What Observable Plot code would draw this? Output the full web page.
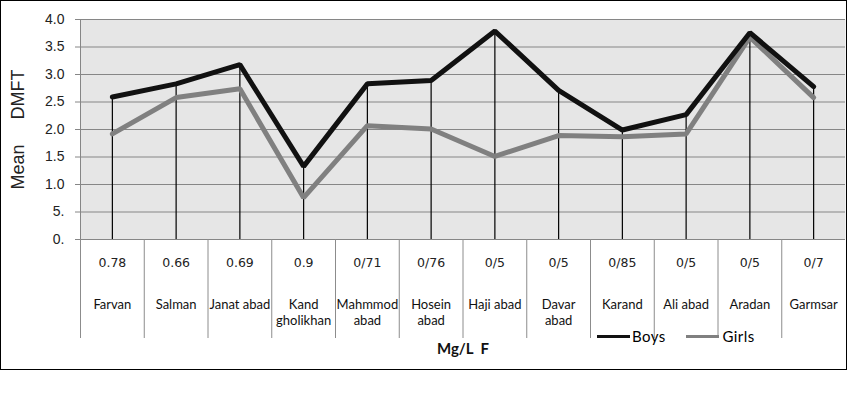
<!DOCTYPE html>
<html>
<head>
<meta charset="utf-8">
<script src="https://cdn.jsdelivr.net/npm/d3@7"></script>
<script src="https://cdn.jsdelivr.net/npm/@observablehq/plot@0.6"></script>
<style>
  body { margin: 0; background: #fff; }
  #wrap { position: relative; width: 848px; height: 393px; overflow: hidden; }
  #border { position: absolute; left: 0; top: 0; width: 845px; height: 368px; border: 1px solid #000; }
  #legend { position: absolute; left: 597px; top: 327px; font: 15px Lato, sans-serif; color: #000; display: flex; align-items: center; letter-spacing: 0.4px; }
  .sw { display: inline-block; width: 33px; height: 3px; margin-right: 2px; }
  .item { display: flex; align-items: center; }
  svg { position: absolute; left: 0; top: 0; }
</style>
</head>
<body>
<div id="wrap">
  <div id="border"></div>
</div>
<script>
const categories = ["Farvan","Salman","Janat abad","Kand\ngholikhan","Mahmmod\nabad","Hosein\nabad","Haji abad","Davar\nabad","Karand","Ali abad","Aradan","Garmsar"];
const fluoride = ["0.78","0.66","0.69","0.9","0/71","0/76","0/5","0/5","0/85","0/5","0/5","0/7"];
const boys  = [2.59, 2.83, 3.18, 1.33, 2.83, 2.89, 3.79, 2.71, 1.99, 2.27, 3.76, 2.78];
const girls = [1.92, 2.58, 2.74, 0.76, 2.07, 2.01, 1.51, 1.89, 1.87, 1.92, 3.68, 2.58];
const yTicks = [0, 0.5, 1, 1.5, 2, 2.5, 3, 3.5, 4];
const yTickLabels = ["0.", "5.", "1.0", "1.5", "2.0", "2.5", "3.0", "3.5", "4.0"];
const seriesNames = ["Boys", "Girls"];
const seriesColors = ["#111111", "#808080"];
const xTitle = "Mg/L\u00a0\u00a0F";
const yTitle = "Mean\u00a0\u00a0\u00a0\u00a0\u00a0DMFT";

const rows = categories.map((c, i) => ({i, name: c, f: fluoride[i], boys: boys[i], girls: girls[i], top: Math.max(boys[i], girls[i])}));

const chart = Plot.plot({
  width: 848,
  height: 393,
  marginTop: 19,
  marginBottom: 154,
  marginLeft: 80,
  marginRight: 3,
  x: {domain: [0, 12], axis: null},
  y: {domain: [0, 4], axis: null},
  style: {fontFamily: "Lato, sans-serif", background: "transparent", color: "#000"},
  marks: [
    Plot.frame({fill: "#e6e6e6"}),
    Plot.gridY(yTicks.slice(1), {stroke: "#868686", strokeOpacity: 1, strokeWidth: 1}),
    Plot.ruleX([0], {stroke: "#868686"}),
    Plot.ruleY([0], {stroke: "#868686"}),
    Plot.axisY({ticks: yTicks, tickFormat: (d, i) => yTickLabels[i], tickSize: 5, tickPadding: 11, stroke: "#868686", fontSize: 14, fontFamily: "Liberation Sans, Arial, sans-serif", fill: "#222", label: null}),
    Plot.text([yTitle], {frameAnchor: "left", rotate: -90, dx: -62, fontSize: 18, fontFamily: "Liberation Sans, Arial, sans-serif", fill: "#222", textAnchor: "middle"}),
    Plot.ruleX(d3.range(12), {stroke: "#8c8c8c", strokeWidth: 1, insetTop: 220, insetBottom: -99}),
    Plot.ruleX(rows, {x: d => d.i + 0.5, y1: 0, y2: "top", stroke: "#000", strokeWidth: 1.2}),
    Plot.line(rows, {x: d => d.i + 0.5, y: "girls", stroke: seriesColors[1], strokeWidth: 5, strokeLinejoin: "miter"}),
    Plot.line(rows, {x: d => d.i + 0.5, y: "boys", stroke: seriesColors[0], strokeWidth: 5, strokeLinejoin: "miter"}),
    Plot.text(rows, {x: d => d.i + 0.5, y: 0, text: "f", dy: 23, fontSize: 12.5, fontFamily: "DejaVu Sans, sans-serif", fill: "#222", letterSpacing: 1.4}),
    Plot.text(rows, {x: d => d.i + 0.5, y: 0, text: "name", dy: 57, lineAnchor: "top", lineHeight: 1.3, fontSize: 13, fill: "#111", letterSpacing: 0.3}),
    Plot.text([xTitle], {frameAnchor: "bottom", dy: 114, fontSize: 15, fontWeight: "bold", fill: "#111"})
  ]
});

const wrap = document.getElementById("wrap");
wrap.appendChild(chart);

const legend = document.createElement("div");
legend.id = "legend";
seriesNames.forEach((n, k) => {
  const it = document.createElement("div");
  it.className = "item";
  it.style.marginRight = k === 0 ? "20px" : "0";
  const sw = document.createElement("span");
  sw.className = "sw";
  sw.style.background = seriesColors[k];
  if (k === 1) sw.style.marginRight = "4px";
  const t = document.createElement("span");
  t.textContent = n;
  it.appendChild(sw); it.appendChild(t);
  legend.appendChild(it);
});
wrap.appendChild(legend);
</script>
</body>
</html>
